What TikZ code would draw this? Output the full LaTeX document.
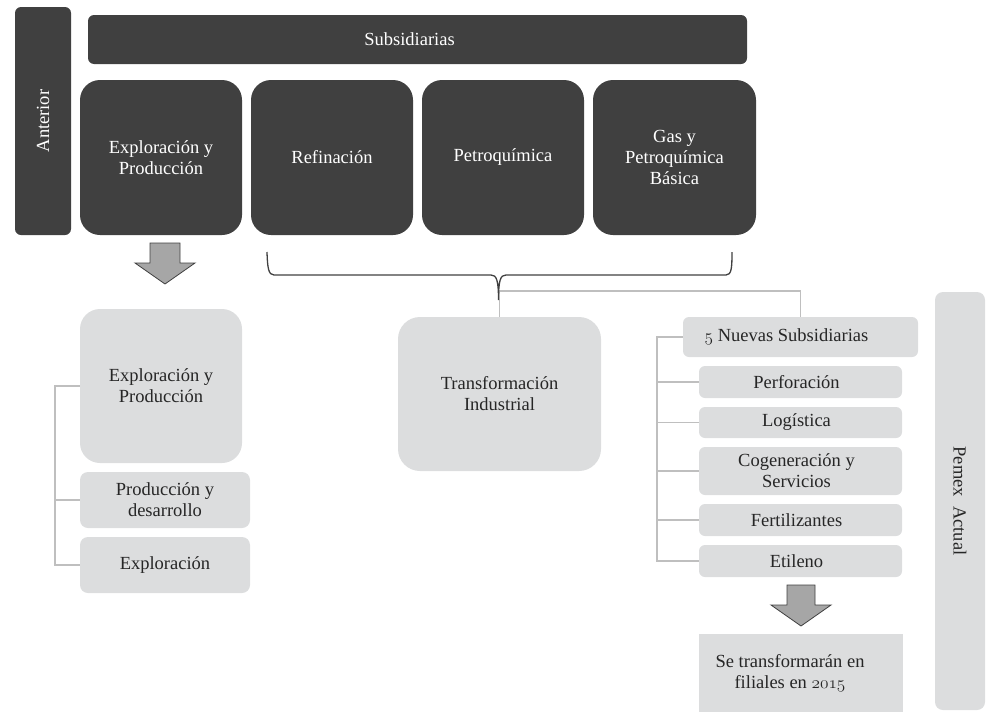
\documentclass[tikz,border=0pt]{standalone}
\usepackage{fontspec}
\setmainfont{Liberation Serif}
\usetikzlibrary{calc}

\definecolor{darkbox}{HTML}{404040}
\definecolor{lightbox}{HTML}{DCDDDE}
\definecolor{linkgray}{HTML}{BFBFBF}
\definecolor{arrowfill}{HTML}{A6A6A6}
\definecolor{bodytext}{HTML}{262626}

\newcommand{\boxfont}{\fontsize{18.5}{21}\selectfont}
% old-style figures taken from the Computer Modern math italic font
\newcommand{\osfig}[1]{{\usefont{OML}{cmm}{m}{it}#1}}

\tikzset{
  darkbox/.style={fill=darkbox, text=white, inner sep=0pt, align=center, font=\boxfont},
  lightbox/.style={fill=lightbox, text=bodytext, inner sep=0pt, align=center, font=\boxfont},
  conn/.style={draw=linkgray, line width=1.5pt},
  bracecurve/.style={draw=darkbox, line width=1.3pt},
  blockarrow/.style={fill=arrowfill, draw=darkbox, line width=0.8pt, line join=miter},
}

\begin{document}
\begin{tikzpicture}[x=1pt, y=-1pt]
\useasboundingbox (0,0) rectangle (987,712);

% ---- previous structure ----
\node[darkbox, rounded corners=6pt, minimum width=228pt, minimum height=56pt, rotate=90]
  (anterior) at (43,121) {Anterior};
\node[darkbox, rounded corners=6pt, minimum width=659pt, minimum height=49pt]
  (subs) at (417.5,39.5) {Subsidiarias\hspace*{16pt}};

\node[darkbox, rounded corners=20pt, minimum width=162pt, minimum height=155pt]
  (ep) at (161,157.5) {Exploración y\\Producción};
\node[darkbox, rounded corners=20pt, minimum width=162pt, minimum height=155pt]
  (ref) at (332,157.5) {Refinación};
\node[darkbox, rounded corners=20pt, minimum width=162pt, minimum height=155pt]
  (petro) at (503,157.5) {Petroquímica};
\node[darkbox, rounded corners=20pt, minimum width=163pt, minimum height=155pt]
  (gas) at (674.5,157.5) {Gas y\\Petroquímica\\Básica};

% ---- current structure, left branch ----
\node[lightbox, rounded corners=20pt, minimum width=162pt, minimum height=154pt]
  (epnew) at (161,386) {Exploración y\\Producción};
\node[lightbox, rounded corners=8pt, minimum width=170pt, minimum height=56pt]
  (pyd) at (165,500) {Producción y\\desarrollo};
\node[lightbox, rounded corners=8pt, minimum width=170pt, minimum height=56pt]
  (explo) at (165,565) {Exploración};

\draw[conn] (epnew.west) -- ++(-25,0) |- (explo.west);
\draw[conn] (pyd.west) -- ++(-25,0);

% ---- current structure, middle and right ----
\node[lightbox, rounded corners=22pt, minimum width=203pt, minimum height=154pt]
  (trans) at (499.5,394) {Transformación\\Industrial};

\node[lightbox, rounded corners=6pt, minimum width=235pt, minimum height=40pt]
  (nuevas) at (800.5,337) {\osfig{5} Nuevas Subsidiarias\hspace*{28pt}};
\node[lightbox, rounded corners=6pt, minimum width=203pt, minimum height=32pt]
  (perf) at (800.5,382) {Perforación\hspace*{8pt}};
\node[lightbox, rounded corners=6pt, minimum width=203pt, minimum height=31pt]
  (logi) at (800.5,422.5) {Logística\hspace*{8pt}};
\node[lightbox, rounded corners=6pt, minimum width=203pt, minimum height=48pt]
  (cogen) at (800.5,471) {Cogeneración y\hspace*{8pt}\\Servicios\hspace*{8pt}};
\node[lightbox, rounded corners=6pt, minimum width=203pt, minimum height=32pt]
  (fert) at (800.5,520) {Fertilizantes\hspace*{8pt}};
\node[lightbox, rounded corners=6pt, minimum width=203pt, minimum height=32pt]
  (etil) at (800.5,561) {Etileno\hspace*{8pt}};

\node[lightbox, minimum width=204pt, minimum height=78pt]
  (filiales) at (801,673) {Se transformarán en\hspace*{22pt}\\filiales en \osfig{2015}\hspace*{22pt}};

\node[lightbox, rounded corners=8pt, minimum width=418pt, minimum height=50pt, rotate=-90]
  (pemex) at (960,501) {Pemex\ \ Actual};

% bracket joining the new subsidiaries
\coordinate (rb) at (657,337);
\draw[conn] (nuevas.west) -- (rb) |- (etil.west);
\foreach \n in {perf,logi,cogen,fert} \draw[conn] (\n.west) -- (rb |- \n.west);

% links from the brace to the two current groups
\draw[conn] (trans.north) -- ++(0,-26) -| (nuevas.north);

% brace grouping Refinación … Gas y Petroquímica Básica
\coordinate (bl) at (267,252);
\coordinate (br) at (732,252);
\coordinate (bt) at (498.5,300);
\draw[bracecurve] (bl) .. controls (267.5,268) and (268.5,275) .. (274,275)
  -- (491,275) .. controls (496.5,275) and (498.5,280) .. (bt)
  .. controls (498.5,280) and (500.5,275) .. (506,275)
  -- (726,275) .. controls (731.5,275) and (732,268) .. (br);

% block arrows
\coordinate (a1) at (165,284);
\draw[blockarrow] (150,243) -- (180,243) -- (180,263) -- (195,263) -- (a1)
  -- (135,263) -- (150,263) -- cycle;
\coordinate (a2) at (801,626);
\draw[blockarrow] (787,585) -- (815,585) -- (815,605) -- (831,605) -- (a2)
  -- (771,605) -- (787,605) -- cycle;
\end{tikzpicture}
\end{document}
